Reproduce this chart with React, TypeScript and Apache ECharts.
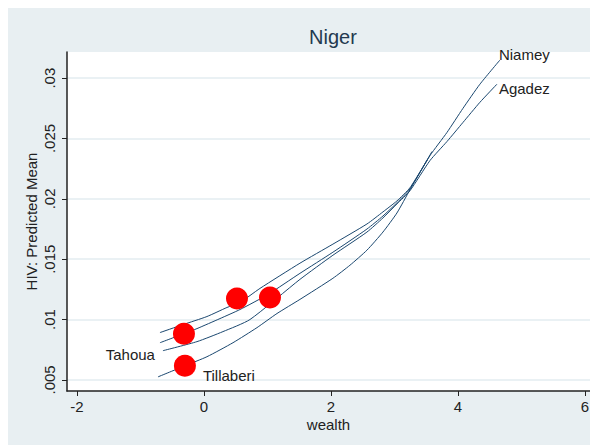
import React, { useEffect, useRef } from "react";
import * as echarts from "echarts";

// ---- data ----
const titleText = "Niger";
const xName = "wealth";
const yName = "HIV: Predicted Mean";

const xTicks = [-2, 0, 2, 4, 6];
const yTicks = [0.005, 0.01, 0.015, 0.02, 0.025, 0.03];
const yTickLabels = [".005", ".01", ".015", ".02", ".025", ".03"];

// predicted mean curves by region: [wealth, predicted mean]
const niamey: [number, number][] = [
  [-0.724, 0.00525], [-0.299, 0.00617], [0.047, 0.00692], [0.457, 0.00808],
  [0.835, 0.00933], [1.15, 0.0105], [1.512, 0.01167], [2.031, 0.01342],
  [2.299, 0.0145], [2.567, 0.01575], [2.819, 0.01725], [3.039, 0.01883],
  [3.244, 0.02075], [3.559, 0.02358], [3.827, 0.0255], [4.079, 0.0275],
  [4.346, 0.0295], [4.661, 0.0315],
];
const agadez: [number, number][] = [
  [-0.646, 0.00742], [-0.11, 0.00817], [0.299, 0.009], [0.724, 0.01],
  [1.512, 0.01333], [2.031, 0.01533], [2.567, 0.01725], [2.819, 0.01842],
  [3.039, 0.01958], [3.244, 0.02067], [3.559, 0.02317], [3.827, 0.02475],
  [4.079, 0.02633], [4.346, 0.028], [4.614, 0.0295],
];
const tahoua: [number, number][] = [
  [-0.693, 0.00808], [-0.315, 0.00883], [-0.11, 0.00925], [0.252, 0.01008],
  [0.567, 0.01083], [1.008, 0.01208], [1.512, 0.01383], [2.031, 0.01558],
  [2.567, 0.0175], [2.819, 0.01858], [3.039, 0.01967], [3.244, 0.02083],
  [3.591, 0.02392],
];
const tillaberi: [number, number][] = [
  [-0.693, 0.00892], [-0.331, 0.00958], [0.047, 0.01025], [0.362, 0.011],
  [0.567, 0.01142], [0.882, 0.01258], [1.512, 0.01467], [2.031, 0.01625],
  [2.567, 0.01792], [2.819, 0.01892], [3.039, 0.01983], [3.244, 0.02092],
  [3.528, 0.02333],
];

// regional means (red markers)
const meanWealth = [-0.315, -0.3, 0.52, 1.04];
const meanHiv = [0.00883, 0.00617, 0.01175, 0.01183];
const meanLabels = ["Tahoua", "Tillaberi", "", ""];

const FONT = "Liberation Sans, Arial, sans-serif";
const LINE_COLOR = "#1a476f";
const TEXT_COLOR = "#222";

export default function App() {
  const ref = useRef<HTMLDivElement>(null);
  useEffect(() => {
    if (!ref.current) return;
    const chart = echarts.init(ref.current, null, { renderer: "svg" });

    const lineSeries = (name: string, data: [number, number][], endLabel?: any) => ({
      name,
      type: "line",
      data,
      showSymbol: false,
      symbol: "none",
      smooth: 0.2,
      lineStyle: { color: LINE_COLOR, width: 1 },
      z: 2,
      endLabel: endLabel
        ? {
            show: true,
            formatter: name,
            color: TEXT_COLOR,
            fontFamily: FONT,
            fontSize: 15,
            distance: 0,
            ...endLabel,
          }
        : { show: false },
    });

    const labelOffsets = [
      { position: "left", offset: [-13, 21] },
      { position: "right", offset: [2, 10] },
    ];

    chart.setOption({
      animation: false,
      textStyle: { fontFamily: FONT },
      title: {
        text: titleText,
        left: 320,
        top: 14,
        textAlign: "center",
        textStyle: { fontFamily: FONT, fontSize: 20, fontWeight: "normal", color: "#23394f" },
      },
      grid: {
        left: 59,
        top: 44,
        right: 5,
        bottom: 54,
        show: true,
        backgroundColor: "#ffffff",
        borderWidth: 0,
      },
      xAxis: {
        type: "value",
        min: -2.157,
        max: 6.08,
        name: xName,
        nameLocation: "middle",
        nameGap: 26,
        nameMoveOverlap: false,
        nameTextStyle: { fontFamily: FONT, fontSize: 15, lineHeight: 14, color: TEXT_COLOR },
        axisLine: { show: true, onZero: false, lineStyle: { color: "#222", width: 1.5 } },
        axisTick: { show: true, length: 5, customValues: xTicks, lineStyle: { color: "#222" } },
        axisLabel: {
          customValues: xTicks,
          margin: 8,
          fontFamily: FONT,
          fontSize: 15,
          lineHeight: 14,
          color: TEXT_COLOR,
        },
        splitLine: { show: false },
      },
      yAxis: {
        type: "value",
        min: 0.00408,
        max: 0.03217,
        name: yName,
        nameLocation: "middle",
        nameRotate: 90,
        nameGap: 28,
        nameMoveOverlap: false,
        nameTextStyle: { fontFamily: FONT, fontSize: 15, color: TEXT_COLOR },
        axisLine: { show: true, onZero: false, lineStyle: { color: "#222", width: 1.5 } },
        axisTick: { show: true, length: 5, customValues: yTicks, lineStyle: { color: "#222" } },
        axisLabel: {
          customValues: yTicks,
          rotate: 90,
          margin: 10,
          fontFamily: FONT,
          fontSize: 15,
          color: TEXT_COLOR,
          formatter: (v: number) => {
            const i = yTicks.findIndex((t) => Math.abs(t - v) < 1e-9);
            return i >= 0 ? yTickLabels[i] : "";
          },
        },
        splitLine: { show: true, lineStyle: { color: "#e3ecf0", width: 1.5 } },
      },
      series: [
        lineSeries("Niamey", niamey, { offset: [-1, -6] }),
        lineSeries("Agadez", agadez, { offset: [2, 4] }),
        lineSeries("Tahoua", tahoua),
        lineSeries("Tillaberi", tillaberi),
        {
          name: "means",
          type: "scatter",
          symbol: "circle",
          symbolSize: 22,
          itemStyle: { color: "#ff0000", opacity: 1 },
          z: 5,
          data: meanWealth.map((x, i) => ({
            value: [x, meanHiv[i]],
            label: meanLabels[i]
              ? {
                  show: true,
                  formatter: meanLabels[i],
                  color: TEXT_COLOR,
                  fontFamily: FONT,
                  fontSize: 15,
                  ...labelOffsets[i],
                }
              : { show: false },
          })),
        },
      ],
    });
    return () => chart.dispose();
  }, []);

  return (
    <div
      ref={ref}
      style={{ width: 587, height: 437, background: "#e8eff2" }}
    />
  );
}
